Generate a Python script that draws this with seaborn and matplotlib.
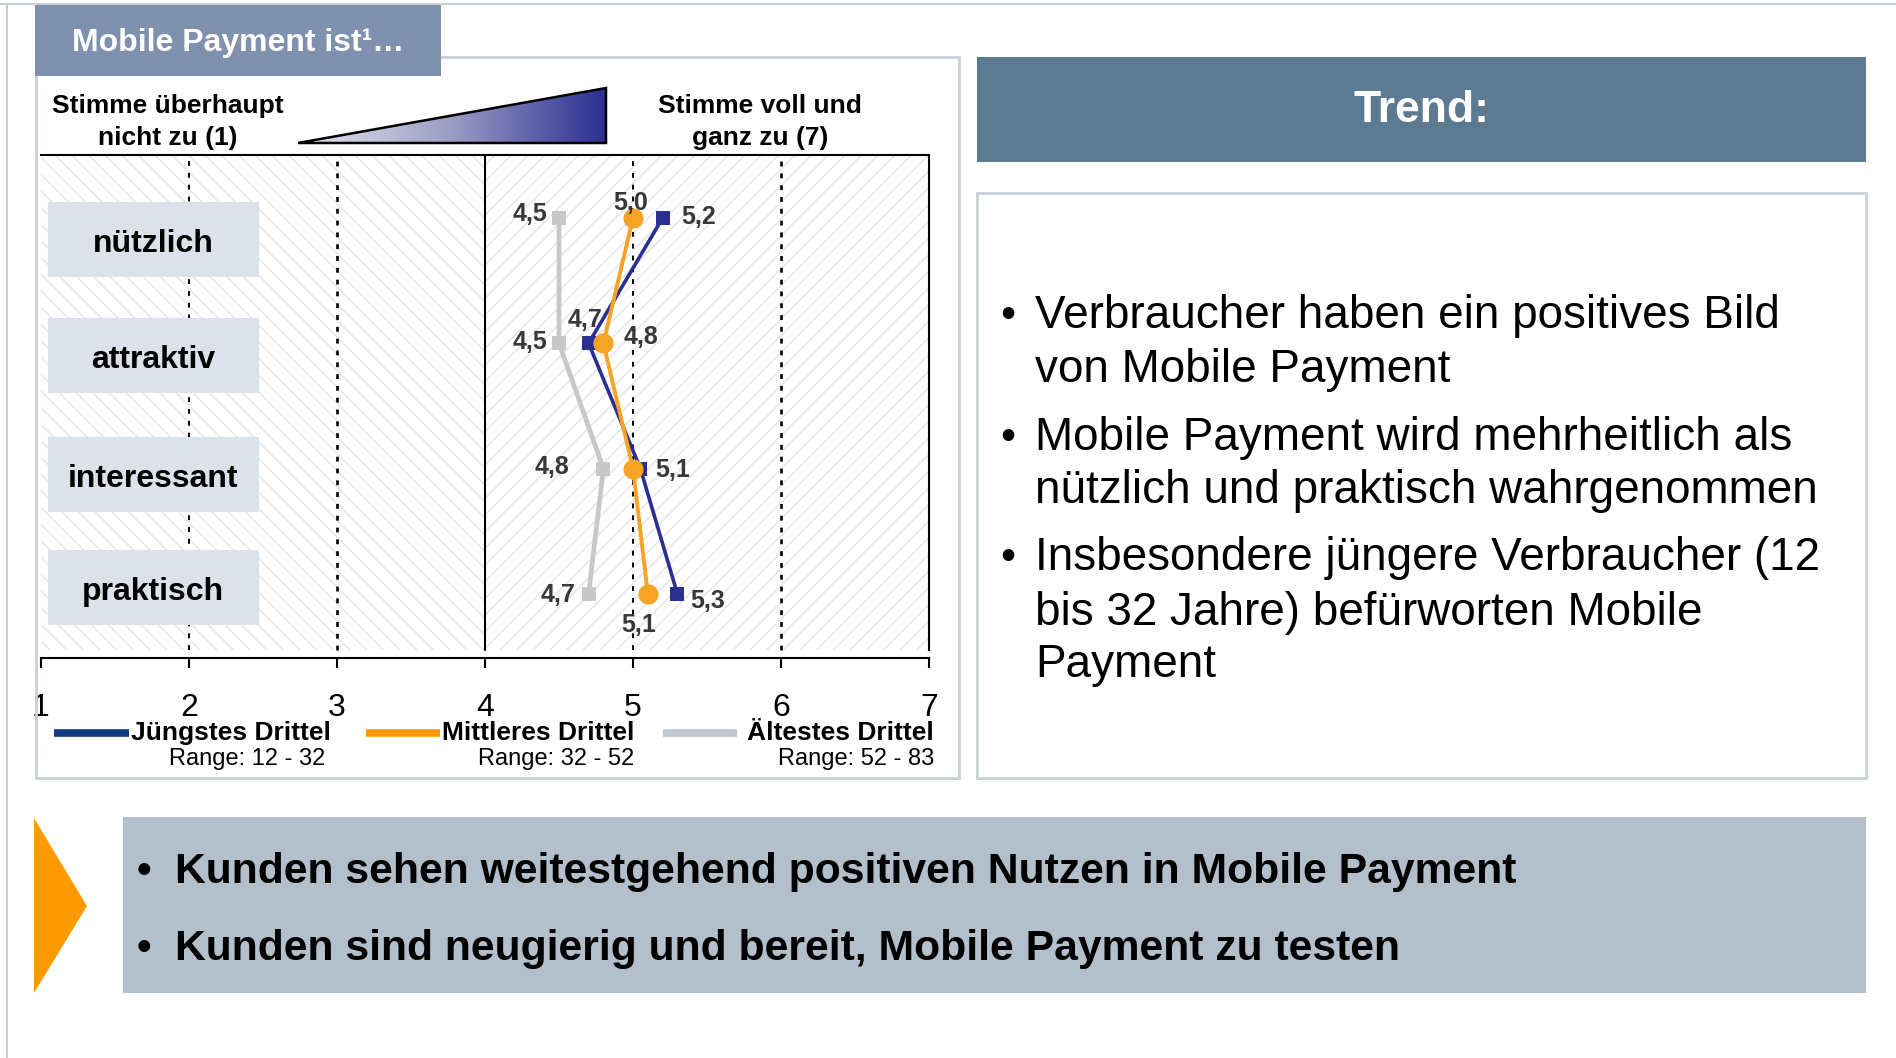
import numpy as np
import pandas as pd
import matplotlib
matplotlib.use("Agg")
import matplotlib.pyplot as plt
import seaborn as sns
from matplotlib.patches import Rectangle, Polygon
from matplotlib.colors import LinearSegmentedColormap
from decimal import Decimal, ROUND_HALF_UP

# ---------------- data ----------------
categories = ["nützlich", "attraktiv", "interessant", "praktisch"]
jung_values = [5.2, 4.7, 5.05, 5.3]      # Jüngstes Drittel
mittel_values = [5.0, 4.8, 5.0, 5.1]     # Mittleres Drittel
alt_values = [4.5, 4.5, 4.8, 4.7]        # Ältestes Drittel
x_ticks = [1, 2, 3, 4, 5, 6, 7]
series_names = ["Jüngstes Drittel", "Mittleres Drittel", "Ältestes Drittel"]
series_ranges = ["Range: 12 - 32", "Range: 32 - 52", "Range: 52 - 83"]
header_left = ["Stimme überhaupt", "nicht zu (1)"]
header_right = ["Stimme voll und", "ganz zu (7)"]
title_text = "Mobile Payment ist¹…"
trend_title = "Trend:"
trend_lines = [
    ("•", "Verbraucher haben ein positives Bild"),
    ("", "von Mobile Payment"),
    ("•", "Mobile Payment wird mehrheitlich als"),
    ("", "nützlich und praktisch wahrgenommen"),
    ("•", "Insbesondere jüngere Verbraucher (12"),
    ("", "bis 32 Jahre) befürworten Mobile"),
    ("", "Payment"),
]
bottom_lines = [
    "Kunden sehen weitestgehend positiven Nutzen in Mobile Payment",
    "Kunden sind neugierig und bereit, Mobile Payment zu testen",
]

# ---------------- style ----------------
sns.set_style("white")
plt.rcParams["font.family"] = ["Liberation Sans", "DejaVu Sans"]
plt.rcParams["text.color"] = "black"
plt.rcParams["lines.scale_dashes"] = False
plt.rcParams["hatch.linewidth"] = 1.2

W, H = 1896, 1058
fig = plt.figure(figsize=(W / 100, H / 100), dpi=100)
fig.patch.set_facecolor("white")

# main axes (pixel geometry of the reference)
ax_l, ax_r, ax_t, ax_b = 41, 929, 155, 658
ax = fig.add_axes([ax_l / W, 1 - ax_b / H, (ax_r - ax_l) / W, (ax_b - ax_t) / H])
ax.set_zorder(1)
ax.set_facecolor("white")
ax.set_xlim(1, 7)
px_per_unit = 125.3
y_top = -(218 - ax_t) / px_per_unit
y_bot = (ax_b - 218) / px_per_unit
ax.set_ylim(y_bot, y_top)
ypos = np.arange(len(categories))

gap = 8 / (ax_b - ax_t)
ax.axvspan(1, 4, ymin=gap, ymax=1, facecolor="white", edgecolor="#e8e8e8",
           hatch="\\\\", lw=0, zorder=0)
ax.axvspan(4, 7, ymin=gap, ymax=1, facecolor="white", edgecolor="#e8e8e8",
           hatch="//", lw=0, zorder=0)
for xv, lw in [(2, 1.4), (3, 1.9), (5, 1.4), (6, 1.9)]:
    ax.axvline(xv, ymin=gap, ymax=1, color="black", lw=lw,
               ls=(0, (3.5, 5.0)), zorder=1)
ax.axvline(4, ymin=gap, ymax=1, color="black", lw=1.5, zorder=1)

for s in ["top", "right", "bottom"]:
    ax.spines[s].set_visible(True)
    ax.spines[s].set_color("black")
    ax.spines[s].set_linewidth(1.5)
ax.spines["left"].set_visible(False)
ax.spines["right"].set_bounds(y_bot - gap * (y_bot - y_top), y_top)

ax.set_xticks(x_ticks)
ax.set_xticklabels([str(t) for t in x_ticks])
ax.set_yticks([])
ax.tick_params(axis="x", bottom=True, length=7.5, width=1.5, direction="out",
               labelsize=23, pad=18, colors="black")
ax.set_xlabel("")
ax.set_ylabel("")

# series
series = [
    (alt_values, "#c8c8c8", "s", 10.5, 3.4, 3),
    (jung_values, "#2b2f92", "s", 9.5, 2.6, 4),
    (mittel_values, "#f7a426", "o", 14.5, 2.8, 5),
]
for vals, col, mk, ms, lw, z in series:
    sns.lineplot(x=vals, y=ypos, ax=ax, sort=False, estimator=None, color=col,
                 marker=mk, markersize=ms, linewidth=lw, markeredgecolor=col,
                 markeredgewidth=0, zorder=z, legend=False)


def fmt(v):
    return str(Decimal(str(v)).quantize(Decimal("0.1"), rounding=ROUND_HALF_UP)).replace(".", ",")


label_offsets = {
    "jung": [(36, 1), (-4, 23), (32, -1), (30, -7)],
    "mittel": [(-2, 15), (38, 6), None, (-9, -31)],
    "alt": [(-29, 4), (-29, 1), (-51, 2), (-31, -1)],
}
for key, vals in [("jung", jung_values), ("mittel", mittel_values), ("alt", alt_values)]:
    for i, v in enumerate(vals):
        off = label_offsets[key][i]
        if off is None:
            continue
        ax.annotate(fmt(v), (v, ypos[i]), xytext=off, textcoords="offset pixels",
                    ha="center", va="center", fontsize=18, fontweight="bold",
                    color="#383838", zorder=6)

# ---------------- overlay (pixel coordinates) ----------------
ov = fig.add_axes([0, 0, 1, 1])
ov.set_zorder(3)
ov.patch.set_alpha(0)
ov.set_xlim(0, W)
ov.set_ylim(H, 0)
ov.axis("off")

frame_col = "#c8d0dc"
ov.plot([0, W], [4, 4], color=frame_col, lw=1.5)
ov.plot([7, 7], [4, H], color=frame_col, lw=1.5)
ov.add_patch(Rectangle((36, 57), 959 - 36, 778 - 57, fill=False, ec=frame_col, lw=2))
ov.add_patch(Rectangle((35, 4), 441 - 35, 76 - 4, fc="#7f91ae", ec="none"))
ov.text(238, 43, title_text, color="white", fontsize=23, fontweight="bold",
        ha="center", va="center")

for i, t in enumerate(header_left):
    ov.text(168, 106 + 32 * i, t, fontsize=19, fontweight="bold", ha="center", va="center")
for i, t in enumerate(header_right):
    ov.text(760, 106 + 32 * i, t, fontsize=19, fontweight="bold", ha="center", va="center")

# gradient triangle
tri_pts = [(298, 143), (606, 88), (606, 143)]
grad = np.linspace(0, 1, 256).reshape(1, -1)
cmap = LinearSegmentedColormap.from_list("g", ["#e6e6ee", "#9a9cc4", "#2b2f92"])
im = ov.imshow(grad, cmap=cmap, extent=(298, 606, 143, 88), aspect="auto", zorder=4)
clip = Polygon(tri_pts, closed=True, transform=ov.transData)
im.set_clip_path(clip)
ov.add_patch(Polygon(tri_pts, closed=True, fc="none", ec="black", lw=1.8, zorder=5))
ov.set_xlim(0, W)
ov.set_ylim(H, 0)

# category label boxes
box_tops = [202, 318, 437, 550]
for cat, top in zip(categories, box_tops):
    ov.add_patch(Rectangle((48, top), 211, 75, fc="#dde1ea", ec="none", zorder=2))
    ov.text(153, top + 42, cat, fontsize=23, fontweight="bold", ha="center",
            va="center", zorder=3)

# legend
leg_cols = ["#123a87", "#ff9900", "#c0c8d2"]
leg_line_x = [(54, 129), (366, 440), (663, 737)]
leg_text_x = [131, 442, 747]
leg_range_x = [325, 634, 934]
for name, rng, col, (x0, x1), tx, rx in zip(series_names, series_ranges, leg_cols,
                                            leg_line_x, leg_text_x, leg_range_x):
    ov.plot([x0, x1], [733, 733], color=col, lw=5.5, solid_capstyle="butt")
    ov.text(tx, 733, name, fontsize=19, fontweight="bold", ha="left", va="center")
    ov.text(rx, 759, rng, fontsize=17, ha="right", va="center")

# right panel
ov.add_patch(Rectangle((977, 57), 1866 - 977, 162 - 57, fc="#5c7a91", ec="none"))
ov.text(1421, 110, trend_title, color="white", fontsize=32, fontweight="bold",
        ha="center", va="center")
ov.add_patch(Rectangle((977, 193), 1866 - 977, 778 - 193, fill=False, ec=frame_col, lw=2))
trend_y = [316, 370, 438, 491, 558, 613, 665]
for (b, t), y in zip(trend_lines, trend_y):
    if b:
        ov.text(1000, y, b, fontsize=31, ha="left", va="center")
    ov.text(1035, y, t, fontsize=33, ha="left", va="center")

# bottom conclusion bar
ov.add_patch(Polygon([(34, 818), (87, 906), (34, 993)], closed=True, fc="#ff9900", ec="none"))
ov.add_patch(Rectangle((123, 817), 1866 - 123, 993 - 817, fc="#b3bfcb", ec="none"))
for t, y in zip(bottom_lines, [872, 949]):
    ov.text(137, y, "•", fontsize=30, fontweight="bold", ha="left", va="center")
    ov.text(175, y, t, fontsize=30.7, fontweight="bold", ha="left", va="center")

fig.savefig("out.png", dpi=100, facecolor="white")
